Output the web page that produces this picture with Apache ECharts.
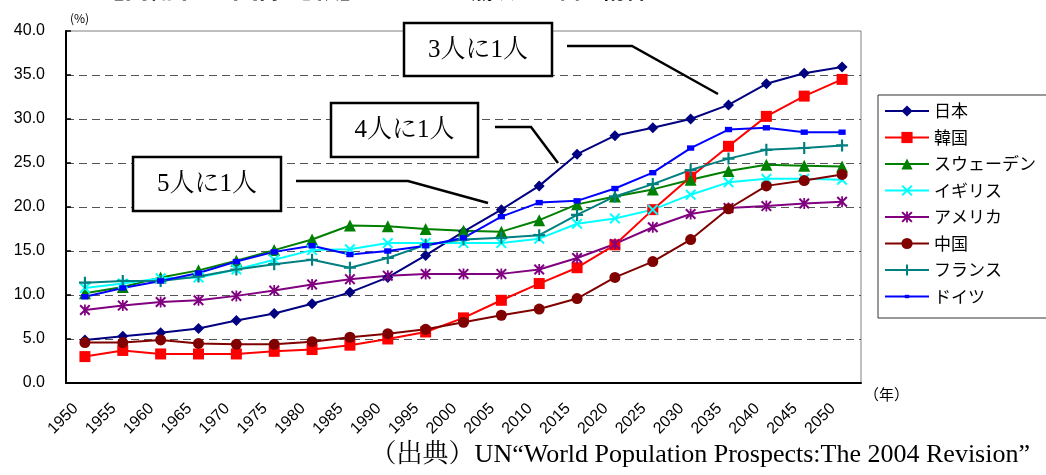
<!DOCTYPE html>
<html>
<head>
<meta charset="utf-8">
<script src="https://cdn.jsdelivr.net/npm/echarts@6/dist/echarts.min.js"></script>
<style>
html,body{margin:0;padding:0;background:#fff;}
#chart{width:1046px;height:475px;}
</style>
</head>
<body>
<div id="chart"></div>
<script>
const years = ['1950','1955','1960','1965','1970','1975','1980','1985','1990','1995','2000','2005','2010','2015','2020','2025','2030','2035','2040','2045','2050'];
const japan   = [4.9, 5.3, 5.7, 6.2, 7.1, 7.9, 9.0, 10.3, 12.0, 14.5, 17.2, 19.7, 22.4, 26.0, 28.1, 29.0, 30.0, 31.6, 34.0, 35.2, 35.9];
const korea   = [3.0, 3.7, 3.3, 3.3, 3.3, 3.6, 3.8, 4.3, 5.0, 5.8, 7.4, 9.4, 11.3, 13.1, 15.7, 19.7, 23.4, 26.9, 30.3, 32.6, 34.5];
const sweden  = [10.2, 10.9, 12.0, 12.8, 13.9, 15.1, 16.3, 17.9, 17.8, 17.5, 17.3, 17.2, 18.5, 20.3, 21.2, 22.0, 23.1, 24.1, 24.8, 24.7, 24.6];
const uk      = [10.8, 11.3, 11.9, 12.0, 12.9, 14.0, 15.1, 15.2, 15.9, 15.9, 15.9, 15.9, 16.4, 18.1, 18.7, 19.7, 21.4, 22.8, 23.2, 23.2, 23.1];
const usa     = [8.3, 8.8, 9.2, 9.4, 9.9, 10.5, 11.2, 11.8, 12.2, 12.4, 12.4, 12.4, 12.9, 14.2, 15.8, 17.7, 19.2, 19.9, 20.1, 20.4, 20.6];
const china   = [4.6, 4.6, 4.9, 4.5, 4.4, 4.4, 4.7, 5.2, 5.6, 6.1, 6.9, 7.7, 8.4, 9.6, 12.0, 13.8, 16.3, 19.8, 22.4, 23.0, 23.7];
const france  = [11.4, 11.6, 11.6, 12.1, 12.9, 13.5, 14.0, 13.1, 14.2, 15.7, 16.3, 16.5, 16.8, 19.1, 21.2, 22.6, 24.2, 25.5, 26.5, 26.7, 27.0];
const germany = [9.8, 10.8, 11.6, 12.5, 13.8, 14.9, 15.6, 14.6, 15.0, 15.6, 16.5, 18.9, 20.5, 20.7, 22.1, 23.9, 26.7, 28.8, 29.0, 28.5, 28.5];
const seriesNames = ['日本','韓国','スウェーデン','イギリス','アメリカ','中国','フランス','ドイツ'];
const yTicks = [0, 5, 10, 15, 20, 25, 30, 35, 40];

const X_PATH = 'path://M0,1.3L1.3,0L5,3.7L8.7,0L10,1.3L6.3,5L10,8.7L8.7,10L5,6.3L1.3,10L0,8.7L3.7,5Z';
const AST_PATH = 'path://M0,1.3L1.3,0L5,3.7L8.7,0L10,1.3L6.3,5L10,8.7L8.7,10L5,6.3L1.3,10L0,8.7L3.7,5Z M4.2,0L5.8,0L5.8,10L4.2,10Z';
const PLUS_PATH = 'path://M4.1,0H5.9V4.1H10V5.9H5.9V10H4.1V5.9H0V4.1H4.1Z';
const SMALL_RECT = 'path://M0,0M20,20M6,7H14V13H6Z';

const defs = [
  {name: seriesNames[0], data: japan,   color: '#000080', symbol: 'diamond',  size: 11},
  {name: seriesNames[1], data: korea,   color: '#FF0000', symbol: 'rect',     size: 11},
  {name: seriesNames[2], data: sweden,  color: '#008000', symbol: 'triangle', size: 12},
  {name: seriesNames[3], data: uk,      color: '#00FFFF', symbol: X_PATH,     size: 11},
  {name: seriesNames[4], data: usa,     color: '#800080', symbol: AST_PATH,   size: 11},
  {name: seriesNames[5], data: china,   color: '#800000', symbol: 'circle',   size: 11},
  {name: seriesNames[6], data: france,  color: '#008080', symbol: PLUS_PATH,  size: 12},
  {name: seriesNames[7], data: germany, color: '#0000FF', symbol: SMALL_RECT, size: 18}
];

const chart = echarts.init(document.getElementById('chart'));
const serifFont = '"Liberation Serif", "Noto Serif CJK JP", "Noto Sans CJK JP", serif';
const option = {
  animation: false,
  backgroundColor: '#fff',
  grid: {left: 66, right: 185, top: 31, bottom: 92, show: true, borderColor: '#808080', borderWidth: 1},
  legend: {
    orient: 'vertical', left: 878, top: 95,
    backgroundColor: '#fff', borderColor: '#333', borderWidth: 1,
    padding: [7.5, 12, 13, 6],
    itemWidth: 44, itemHeight: 14, itemGap: 9.5,
    selectedMode: false,
    textStyle: {fontSize: 17, lineHeight: 17, color: '#000', fontFamily: '"Noto Sans CJK JP", sans-serif'},
    data: seriesNames
  },
  xAxis: {
    type: 'category', data: years, boundaryGap: true,
    axisLine: {lineStyle: {color: '#000', width: 2}},
    axisTick: {inside: true, length: 6, lineStyle: {color: '#000', width: 1.5}},
    axisLabel: {rotate: 45, interval: 0, margin: 14, padding: [0, 13, 0, 0], fontSize: 16, color: '#000', fontFamily: '"Liberation Sans", Arial, sans-serif'},
    splitLine: {show: false}
  },
  yAxis: {
    type: 'value', min: yTicks[0], max: yTicks[yTicks.length - 1], interval: 5,
    axisLine: {show: true, lineStyle: {color: '#000', width: 2}},
    axisTick: {show: true, inside: true, length: 5, lineStyle: {color: '#000', width: 1.5}},
    axisLabel: {margin: 21, fontSize: 16, color: '#000', fontFamily: '"Liberation Sans", Arial, sans-serif', formatter: v => v.toFixed(1)},
    splitLine: {show: true, showMinLine: false, showMaxLine: false, lineStyle: {color: '#555', width: 1, type: [8, 5]}}
  },
  series: defs.map(d => ({
    name: d.name, type: 'line', data: d.data,
    symbol: d.symbol, symbolSize: d.size, showSymbol: true,
    lineStyle: {color: d.color, width: 2},
    itemStyle: {color: d.color, borderWidth: 0},
    emphasis: {disabled: true}
  })),
  graphic: [
    {type: 'text', left: 97, top: -25.5, style: {text: '【高齢化の国際比較】', font: 'bold 27px "Noto Sans CJK JP"', fill: '#000'}},
    {type: 'text', left: 445, top: -21.5, style: {text: '65歳以上人口の割合', font: 'bold 22px "Noto Sans CJK JP"', fill: '#000'}},
    {type: 'text', left: 70, top: 12, style: {text: '(%)', font: '12px "Noto Sans CJK JP"', fill: '#000'}},
    {type: 'text', left: 864, top: 387, style: {text: '（年）', font: '15px "Noto Sans CJK JP"', fill: '#000'}},
    {type: 'text', right: 16, top: 442, style: {text: '（出典）UN“World Population Prospects:The 2004 Revision”', font: '26px ' + serifFont, fill: '#000'}},
    {type: 'polyline', z: 100, shape: {points: [[567, 46], [632, 46], [718, 94]]}, style: {stroke: '#000', lineWidth: 2.5, fill: null}},
    {type: 'polyline', z: 100, shape: {points: [[495, 127], [531, 127], [558, 163]]}, style: {stroke: '#000', lineWidth: 2.5, fill: null}},
    {type: 'polyline', z: 100, shape: {points: [[296, 181], [408, 181], [488, 203]]}, style: {stroke: '#000', lineWidth: 2.5, fill: null}},
    {type: 'rect', z: 100, shape: {x: 404, y: 23, width: 148, height: 53}, style: {fill: '#fff', stroke: '#000', lineWidth: 2.5}},
    {type: 'text', z: 101, x: 478, y: 50, style: {text: '3人に1人', font: '25px ' + serifFont, fill: '#000', align: 'center', verticalAlign: 'middle'}},
    {type: 'rect', z: 100, shape: {x: 331, y: 103, width: 147, height: 54}, style: {fill: '#fff', stroke: '#000', lineWidth: 2.5}},
    {type: 'text', z: 101, x: 404.5, y: 130, style: {text: '4人に1人', font: '25px ' + serifFont, fill: '#000', align: 'center', verticalAlign: 'middle'}},
    {type: 'rect', z: 100, shape: {x: 133, y: 157, width: 148, height: 54}, style: {fill: '#fff', stroke: '#000', lineWidth: 2.5}},
    {type: 'text', z: 101, x: 207, y: 184, style: {text: '5人に1人', font: '25px ' + serifFont, fill: '#000', align: 'center', verticalAlign: 'middle'}}
  ]
};
chart.setOption(option);
</script>
</body>
</html>
